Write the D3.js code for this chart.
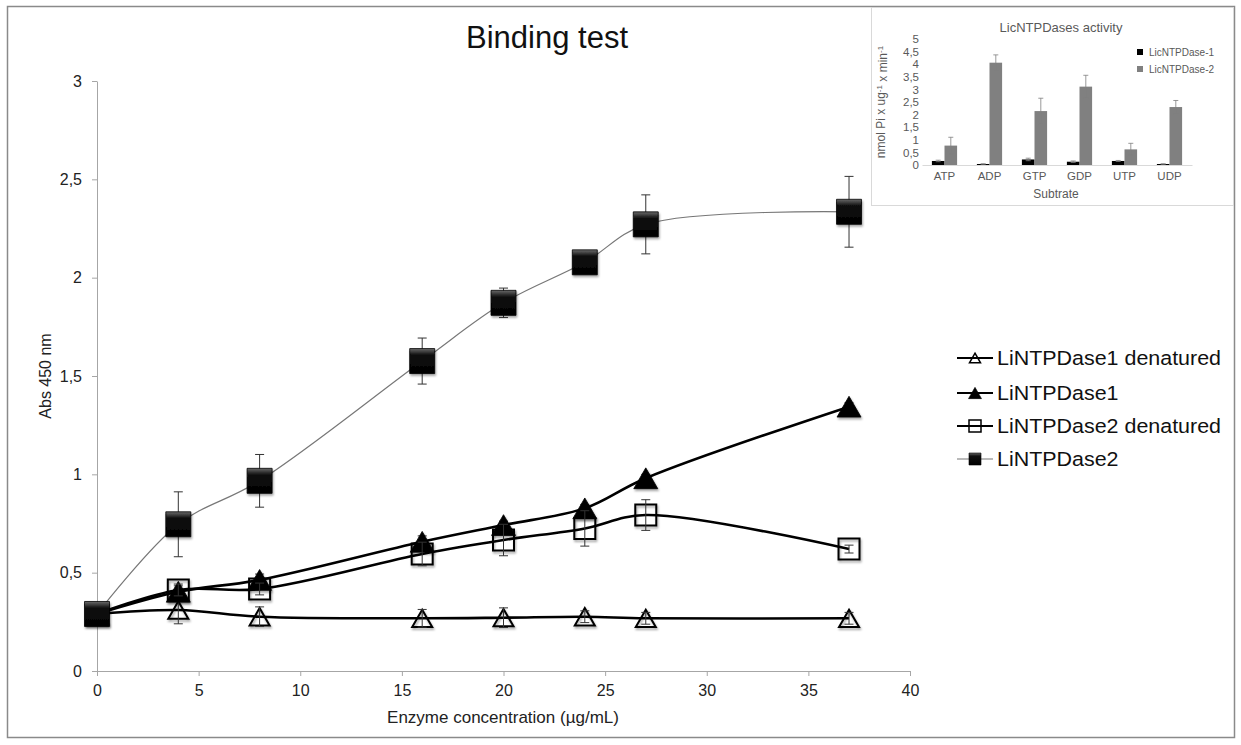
<!DOCTYPE html>
<html><head><meta charset="utf-8">
<script src="https://cdn.jsdelivr.net/npm/d3@7"></script>
<style>body{margin:0;background:#fff;} svg{display:block;font-family:"Liberation Sans",Arial,sans-serif;}</style>
</head><body><svg id="c" width="1241" height="745"></svg>
<script>
// ---- main chart data ----
const concentrations = [0, 4, 8, 16, 20, 24, 27, 37];
const seriesNames = ["LiNTPDase1 denatured", "LiNTPDase1", "LiNTPDase2 denatured", "LiNTPDase2"];
const lin1DenValues = [0.29, 0.31, 0.276, 0.268, 0.271, 0.276, 0.268, 0.268];
const lin1DenErrors = [0.02, 0.07, 0.05, 0.045, 0.05, 0.03, 0.03, 0.03];
const lin1Values = [0.29, 0.403, 0.463, 0.657, 0.742, 0.827, 0.98, 1.344];
const lin1Errors = [0.02, 0.03, 0.03, 0.03, 0.02, 0.02, 0.02, 0.02];
const lin2DenValues = [0.29, 0.412, 0.417, 0.595, 0.666, 0.725, 0.793, 0.62];
const lin2DenErrors = [0.02, 0.03, 0.03, 0.06, 0.08, 0.09, 0.078, 0.02];
const lin2Values = [0.29, 0.746, 0.967, 1.576, 1.872, 2.078, 2.271, 2.335];
const lin2Errors = [0.03, 0.165, 0.134, 0.117, 0.075, 0.02, 0.15, 0.18];
const xTicks = [0, 5, 10, 15, 20, 25, 30, 35, 40];
const yTicks = [0, 0.5, 1, 1.5, 2, 2.5, 3];
const yTickLabels = ["0", "0,5", "1", "1,5", "2", "2,5", "3"];

// ---- inset data ----
const substrates = ["ATP", "ADP", "GTP", "GDP", "UTP", "UDP"];
const insetSeries = ["LicNTPDase-1", "LicNTPDase-2"];
const act1Values = [0.16, 0.04, 0.22, 0.13, 0.16, 0.04];
const act1Errors = [0.03, 0.01, 0.05, 0.03, 0.02, 0.01];
const act2Values = [0.77, 4.06, 2.14, 3.11, 0.62, 2.30];
const act2Errors = [0.33, 0.31, 0.51, 0.45, 0.24, 0.26];
const insetTicks = [0, 0.5, 1, 1.5, 2, 2.5, 3, 3.5, 4, 4.5, 5];
const insetTickLabels = ["0", "0,5", "1", "1,5", "2", "2,5", "3", "3,5", "4", "4,5", "5"];

const svg = d3.select("#c");
const defs = svg.append("defs");
const grad = defs.append("linearGradient").attr("id", "sqGrad").attr("x1", 0).attr("y1", 0).attr("x2", 0).attr("y2", 1);
grad.append("stop").attr("offset", "0%").attr("stop-color", "#6a6a6a");
grad.append("stop").attr("offset", "25%").attr("stop-color", "#111");
grad.append("stop").attr("offset", "100%").attr("stop-color", "#000");
const f = defs.append("filter").attr("id", "shadow").attr("x", "-30%").attr("y", "-30%").attr("width", "160%").attr("height", "170%");
f.append("feDropShadow").attr("dx", 1).attr("dy", 2).attr("stdDeviation", 1.2).attr("flood-color", "#000").attr("flood-opacity", 0.35);

// outer frame
svg.append("rect").attr("x", 7.5).attr("y", 6.5).attr("width", 1227).attr("height", 731)
  .attr("fill", "#fff").attr("stroke", "#8a8a8a").attr("stroke-width", 1.5);

const x = d3.scaleLinear().domain([0, 40]).range([97, 910]);
const y = d3.scaleLinear().domain([0, 3]).range([671, 81]);

// axes
const xAxis = svg.append("g").attr("transform", `translate(0,${y(0)})`)
  .call(d3.axisBottom(x).tickValues(xTicks).tickSize(5).tickPadding(9).tickSizeOuter(0));
const yAxis = svg.append("g").attr("transform", `translate(${x(0)},0)`)
  .call(d3.axisLeft(y).tickValues(yTicks).tickFormat((d, i) => yTickLabels[i]).tickSize(5).tickPadding(10).tickSizeOuter(0));
[xAxis, yAxis].forEach(g => {
  g.select(".domain").attr("stroke", "#a6a6a6");
  g.selectAll(".tick line").attr("stroke", "#a6a6a6");
  g.selectAll(".tick text").attr("fill", "#222").style("font-size", "16px").style("font-family", "'Liberation Sans', Arial, sans-serif");
});

// titles
svg.append("text").attr("x", 547).attr("y", 48).attr("text-anchor", "middle")
  .style("font-size", "31px").attr("fill", "#111").text("Binding test");
svg.append("text").attr("x", 503).attr("y", 723).attr("text-anchor", "middle")
  .style("font-size", "17px").attr("fill", "#222").text("Enzyme concentration (µg/mL)");
svg.append("text").attr("transform", "translate(51,376) rotate(-90)").attr("text-anchor", "middle")
  .style("font-size", "16px").attr("fill", "#222").text("Abs 450 nm");

const series = [
  { name: seriesNames[0], values: lin1DenValues, errors: lin1DenErrors, shape: "tri", fill: "none", lineW: 2.6, lineC: "#000", size: 20 },
  { name: seriesNames[1], values: lin1Values, errors: lin1Errors, shape: "tri", fill: "#000", lineW: 2.6, lineC: "#000", size: 24 },
  { name: seriesNames[2], values: lin2DenValues, errors: lin2DenErrors, shape: "sq", fill: "none", lineW: 2.6, lineC: "#000", size: 21 },
  { name: seriesNames[3], values: lin2Values, errors: lin2Errors, shape: "sq", fill: "url(#sqGrad)", lineW: 1.2, lineC: "#777", size: 25 }
];

const line = d3.line().x(d => x(d[0])).y(d => y(d[1])).curve(d3.curveCatmullRom.alpha(0.5));

function markerPath(shape, size) {
  if (shape === "sq") return d3.symbol(d3.symbolSquare, size * size)();
  const area = Math.sqrt(3) / 4 * size * size;
  return d3.symbol(d3.symbolTriangle, area)();
}
function markerOffset(shape, size) {
  return shape === "tri" ? (Math.sqrt(3) / 2 * size) / 6 : 0;
}

// lines
series.forEach(s => {
  const pts = concentrations.map((c, i) => [c, s.values[i]]);
  svg.append("path").attr("d", line(pts)).attr("fill", "none").attr("stroke", s.lineC).attr("stroke-width", s.lineW);
});

function drawErrors(g, s) {
  concentrations.forEach((c, i) => {
    const px = x(c);
    const y1 = y(s.values[i] + s.errors[i]), y2 = y(s.values[i] - s.errors[i]);
    g.append("line").attr("x1", px).attr("x2", px).attr("y1", y1).attr("y2", y2).attr("stroke", "#333").attr("stroke-width", 1);
    [y1, y2].forEach(yy => g.append("line").attr("x1", px - 4.5).attr("x2", px + 4.5).attr("y1", yy).attr("y2", yy).attr("stroke", "#333").attr("stroke-width", 1));
  });
}
function drawMarkers(g, s) {
  const filled = s.fill !== "none";
  concentrations.forEach((c, i) => {
    g.append("path").attr("d", markerPath(s.shape, s.size))
      .attr("transform", `translate(${x(c)},${y(s.values[i]) + markerOffset(s.shape, s.size)})`)
      .attr("fill", s.fill)
      .attr("stroke", "#000").attr("stroke-width", filled ? 0.8 : 2)
      .attr("filter", "url(#shadow)");
  });
}
series.forEach(s => {
  const g = svg.append("g");
  if (s.fill === "none") { drawMarkers(g, s); drawErrors(g, s); }
  else { drawErrors(g, s); drawMarkers(g, s); }
});

// legend
const legY = [358, 393, 426, 459];
series.forEach((s, i) => {
  const g = svg.append("g").attr("transform", `translate(0,${legY[i]})`);
  g.append("line").attr("x1", 957).attr("x2", 993).attr("y1", 0).attr("y2", 0).attr("stroke", s.lineC).attr("stroke-width", s.lineW === 1.2 ? 1.2 : 2.2);
  const ms = s.shape === "tri" ? (s.fill === "none" ? 11 : 13) : 12;
  g.append("path").attr("d", markerPath(s.shape, ms))
    .attr("transform", `translate(975,${markerOffset(s.shape, ms)})`)
    .attr("fill", s.fill).attr("stroke", "#000").attr("stroke-width", s.fill === "none" ? 1.5 : 0.6);
  g.append("text").attr("transform", "translate(997,0) scale(1.1,1)").attr("dy", "0.35em").style("font-size", "19.5px").attr("fill", "#111").text(s.name);
});

// ---- inset ----
const inset = svg.append("g");
inset.append("rect").attr("x", 871.5).attr("y", 7.5).attr("width", 362).attr("height", 198)
  .attr("fill", "#fff").attr("stroke", "#d9d9d9").attr("stroke-width", 1);
const xb = d3.scaleBand().domain(substrates).range([922, 1192]).paddingInner(0.44).paddingOuter(0.22);
const xs = d3.scaleBand().domain(insetSeries).range([0, xb.bandwidth()]);
const yi = d3.scaleLinear().domain([0, 5]).range([165, 39]);
const insetColors = ["#000", "#808080"];
const insetVals = [act1Values, act2Values];
const insetErrs = [act1Errors, act2Errors];

inset.append("text").attr("x", 1061).attr("y", 32).attr("text-anchor", "middle").style("font-size", "13px").attr("fill", "#595959").text("LicNTPDases activity");

const yiAxis = inset.append("g").attr("transform", `translate(${xb.range()[0]},0)`)
  .call(d3.axisLeft(yi).tickValues(insetTicks).tickFormat((d, i) => insetTickLabels[i]).tickSize(0).tickPadding(3));
yiAxis.select(".domain").remove();
yiAxis.selectAll(".tick text").attr("fill", "#595959").style("font-size", "11.5px").style("font-family", "'Liberation Sans', Arial, sans-serif");

insetSeries.forEach((sn, si) => {
  substrates.forEach((sub, i) => {
    const bx = xb(sub) + xs(sn);
    const v = insetVals[si][i], e = insetErrs[si][i];
    inset.append("rect").attr("x", bx).attr("y", yi(v)).attr("width", xs.bandwidth()).attr("height", yi(0) - yi(v)).attr("fill", insetColors[si]);
    const cx = bx + xs.bandwidth() / 2;
    const y1 = yi(v + e), y2 = yi(v - e);
    inset.append("line").attr("x1", cx).attr("x2", cx).attr("y1", y1).attr("y2", y2).attr("stroke", "#7f7f7f").attr("stroke-width", 0.8);
    [y1, y2].forEach(yy => inset.append("line").attr("x1", cx - 2.5).attr("x2", cx + 2.5).attr("y1", yy).attr("y2", yy).attr("stroke", "#7f7f7f").attr("stroke-width", 0.8));
  });
});

const xiAxis = inset.append("g").attr("transform", `translate(0,${yi(0)})`)
  .call(d3.axisBottom(xb).tickSize(0).tickPadding(7).tickSizeOuter(0));
xiAxis.select(".domain").attr("stroke", "#d9d9d9");
xiAxis.selectAll(".tick text").attr("fill", "#595959").style("font-size", "11.5px").style("font-family", "'Liberation Sans', Arial, sans-serif");

inset.append("text").attr("x", 1056).attr("y", 198).attr("text-anchor", "middle").style("font-size", "12px").attr("fill", "#595959").text("Subtrate");

const yt = inset.append("text").attr("transform", "translate(885,102) rotate(-90)").attr("text-anchor", "middle")
  .style("font-size", "12px").attr("fill", "#595959");
yt.append("tspan").text("nmol Pi x ug");
yt.append("tspan").attr("dy", "-0.4em").style("font-size", "8px").text("-1");
yt.append("tspan").attr("dy", "0.4em").text(" x min");
yt.append("tspan").attr("dy", "-0.4em").style("font-size", "8px").text("-1");

insetSeries.forEach((sn, i) => {
  const ly = [52, 69][i];
  inset.append("rect").attr("x", 1137).attr("y", ly - 3).attr("width", 6).attr("height", 6).attr("fill", insetColors[i]);
  inset.append("text").attr("x", 1149).attr("y", ly).attr("dy", "0.35em").style("font-size", "10px").attr("fill", "#595959").text(sn);
});
</script></body></html>
